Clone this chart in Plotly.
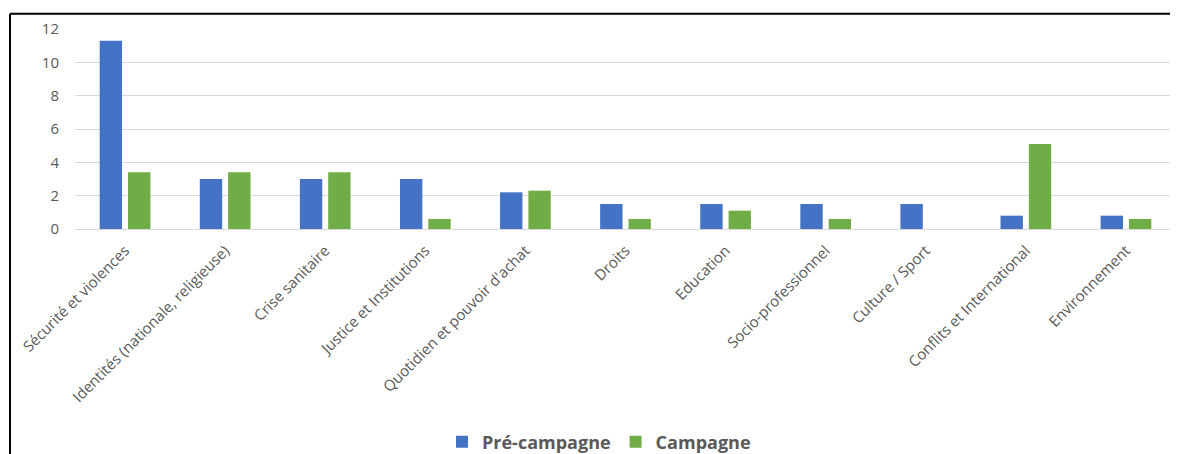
import plotly.graph_objects as go

# Données
categories = [
    "Sécurité et violences",
    "Identités (nationale, religieuse)",
    "Crise sanitaire",
    "Justice et Institutions",
    "Quotidien et pouvoir d'achat",
    "Droits",
    "Education",
    "Socio-professionnel",
    "Culture / Sport",
    "Conflits et International",
    "Environnement",
]
pre_campagne = [11.3, 3.0, 3.0, 3.0, 2.2, 1.5, 1.5, 1.5, 1.5, 0.8, 0.8]
campagne = [3.4, 3.4, 3.4, 0.6, 2.3, 0.6, 1.1, 0.6, 0.0, 5.1, 0.6]
y_ticks = [0, 2, 4, 6, 8, 10, 12]

BLUE = "#4472C4"
GREEN = "#70AD47"
GREY = "#595959"
FONT = "Open Sans"

# la page ajoute 8 px de marge (body) -> coordonnées figure = page - 8
OFF = 8
W, H = 1178 - OFF, 454 - OFF
X0, X1 = 75 - OFF, 1176 - OFF
Y_TOP, Y_BOT = 29.3 - OFF, 228.7 - OFF

fig = go.Figure()
fig.add_trace(go.Bar(x=categories, y=pre_campagne, name="Pré-campagne",
                     marker=dict(color=BLUE, line=dict(width=0))))
fig.add_trace(go.Bar(x=categories, y=campagne, name="Campagne",
                     marker=dict(color=GREEN, line=dict(width=0))))

def px_x(p):
    return (p - OFF - X0) / (X1 - X0)

def px_y(p):
    return (Y_BOT - (p - OFF)) / (Y_BOT - Y_TOP)

# cadre noir (haut + gauche)
frame = dict(type="line", xref="paper", yref="paper",
             line=dict(color="black", width=2), layer="above")
fig.add_shape(x0=px_x(10), x1=px_x(1180), y0=px_y(14), y1=px_y(14), **frame)
fig.add_shape(x0=px_x(10), x1=px_x(10), y0=px_y(14), y1=px_y(460), **frame)

fig.update_layout(
    width=W, height=H,
    margin=dict(l=X0, r=W - X1, t=Y_TOP, b=H - Y_BOT, autoexpand=False),
    barmode="group", bargap=0.434, bargroupgap=0.21,
    plot_bgcolor="white", paper_bgcolor="white",
    font=dict(family=FONT, color=GREY),
    showlegend=True,
    legend=dict(orientation="h", xanchor="center", x=px_x(599),
                yanchor="middle", y=px_y(441),
                font=dict(family=FONT, size=18, color=GREY, weight="bold"),
                itemwidth=30),
)
fig.update_xaxes(tickangle=-45, tickfont=dict(size=15, color=GREY), automargin=False,
                 showline=False, ticks="", showgrid=False, ticklabelstandoff=9)
fig.update_yaxes(range=[0, 12], tickvals=y_ticks, tickfont=dict(size=15, color=GREY),
                 automargin=False,
                 showgrid=True, gridcolor="#D9D9D9", gridwidth=1,
                 zeroline=True, zerolinecolor="#D9D9D9", zerolinewidth=1,
                 ticks="", ticklabelstandoff=15)

fig.write_html("out.html")
